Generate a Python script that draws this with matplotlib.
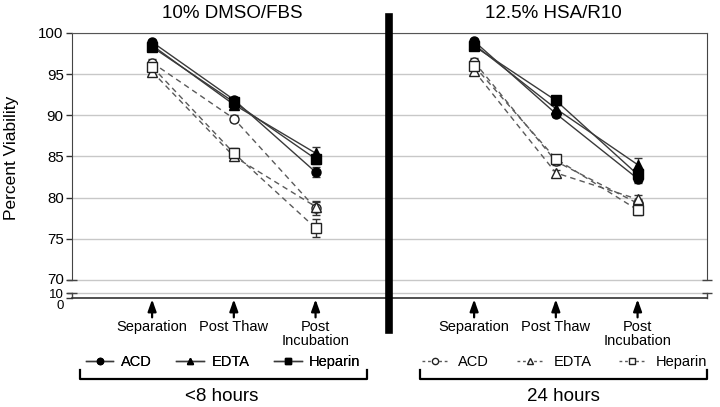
import numpy as np
import matplotlib.pyplot as plt
import matplotlib.transforms as mtransforms
from matplotlib.lines import Line2D

plt.rcParams['font.family'] = ['Liberation Sans', 'DejaVu Sans']

# 數據
stages = ["Separation", "Post Thaw", "Post\nIncubation"]
panel_titles = ["10% DMSO/FBS", "12.5% HSA/R10"]
group_names = ["<8 hours", "24 hours"]
anticoag = ["ACD", "EDTA", "Heparin"]
markers = ["o", "^", "s"]

# 10% DMSO/FBS, <8 hours (filled): ACD, EDTA, Heparin
dmso_8h = [[98.9, 91.9, 83.1],
           [98.5, 91.3, 85.4],
           [98.3, 91.6, 84.7]]
dmso_8h_err = [[0.3, 0.3, 0.6],
               [0.3, 0.3, 0.8],
               [0.3, 0.3, 0.6]]
# 10% DMSO/FBS, 24 hours (open)
dmso_24h = [[96.4, 89.6, 78.7],
            [95.3, 85.0, 78.9],
            [95.9, 85.4, 76.3]]
dmso_24h_err = [[0.4, 0.4, 0.8],
                [0.3, 0.3, 0.7],
                [0.5, 0.6, 1.1]]
# 12.5% HSA/R10, <8 hours (filled)
hsa_8h = [[99.0, 90.2, 82.3],
          [98.6, 90.8, 84.0],
          [98.4, 91.8, 82.8]]
hsa_8h_err = [[0.3, 0.4, 0.5],
              [0.3, 0.4, 0.8],
              [0.3, 0.5, 0.5]]
# 12.5% HSA/R10, 24 hours (open)
hsa_24h = [[96.5, 84.4, 79.3],
           [95.4, 83.0, 79.8],
           [96.0, 84.7, 78.5]]
hsa_24h_err = [[0.5, 0.4, 0.5],
               [0.4, 0.4, 0.5],
               [0.5, 0.5, 0.6]]

yticks = [0, 10, 70, 75, 80, 85, 90, 95, 100]

# 斷軸: 0-10 壓縮在 70 下方
brk_in = [0, 10, 70, 100]
brk_out = [67.8, 68.42, 70, 100]
def fwd(v):
    return np.interp(v, brk_in, brk_out)
def inv(v):
    return np.interp(v, brk_out, brk_in)

fig = plt.figure(figsize=(7.2, 4.07), dpi=100)
ax = fig.add_axes([0.1, 0.268, 0.882, 0.651])
ax.set_yscale('function', functions=(fwd, inv))
ax.set_ylim(0, 100)

x = np.arange(len(stages))
offsets = [0, 3.94]
ax.set_xlim(-0.98, 6.79)

line_col = '#3a3a3a'
dash_col = '#5a5a5a'

for off, fresh, fresh_e, old, old_e in [(offsets[0], dmso_8h, dmso_8h_err, dmso_24h, dmso_24h_err),
                                       (offsets[1], hsa_8h, hsa_8h_err, hsa_24h, hsa_24h_err)]:
    for i in range(3):
        ax.errorbar(x + off, old[i], yerr=old_e[i], color=dash_col, ls=(0, (4, 3)), lw=1.0,
                    marker=markers[i], ms=6.5, mfc='white', mec='#222222', mew=1.0,
                    ecolor='#333333', elinewidth=1.0, capsize=3, zorder=3)
    for i in range(3):
        ax.errorbar(x + off, fresh[i], yerr=fresh_e[i], color=line_col, ls='-', lw=1.0,
                    marker=markers[i], ms=6.5, mfc='black', mec='black',
                    ecolor='#333333', elinewidth=1.0, capsize=3, zorder=4)

# 網格與軸
ax.set_yticks(yticks)
ax.set_yticklabels([str(t) for t in yticks], fontsize=10.8)
ax.tick_params(axis='y', length=4, width=1, color='#333333', pad=2)
lbl0, lbl10, lbl70 = ax.get_yticklabels()[:3]
def nudge(lbl, dy):
    lbl.set_transform(lbl.get_transform() + mtransforms.ScaledTranslation(0, dy / 100, fig.dpi_scale_trans))
lbl0.set_fontsize(9.5)
lbl10.set_fontsize(9.5)
lbl0.set_va('top')
nudge(lbl0, -2)
nudge(lbl10, -1)
nudge(lbl70, 1.5)
ax.yaxis.grid(True, color='#c8c8c8', lw=1)
ax.set_axisbelow(True)

all_x = np.concatenate([x + offsets[0], x + offsets[1]])
ax.set_xticks(all_x)
ax.set_xticklabels(stages * 2, fontsize=10.5, linespacing=0.95)
ax.tick_params(axis='x', length=0, pad=16)

for s in ['left', 'right']:
    ax.spines[s].set_bounds(70, 100)
    ax.spines[s].set_color('#444444')
ax.spines['top'].set_color('#555555')
ax.spines['bottom'].set_color('#333333')
ax.spines['bottom'].set_linewidth(1.2)

tb = mtransforms.blended_transform_factory(ax.transAxes, ax.transData)
for xs in [0, 1]:
    ax.plot([xs, xs], [0, 10], color='#444444', lw=1, transform=tb, clip_on=False)
    ax.plot([xs, xs], [10, 70], color='none', marker='_', ms=7, mec='#444444', mew=1,
            transform=tb, clip_on=False)

# 向上箭頭
for xv in all_x:
    ax.annotate('', xy=(xv, 0), xytext=(0, -14), textcoords='offset points',
                xycoords=('data', 'data'),
                arrowprops=dict(arrowstyle='-|>,head_length=0.7,head_width=0.25',
                                color='black', lw=1.6, shrinkA=0, shrinkB=1))

ax.set_ylabel("Percent Viability", fontsize=12.5)
ax.yaxis.set_label_coords(-0.083, 0.53)

# 標題
fig.text(0.322, 0.968, panel_titles[0], ha='center', va='center', fontsize=13.5)
fig.text(0.769, 0.968, panel_titles[1], ha='center', va='center', fontsize=13.5)

# 中間粗線
fig.add_artist(Line2D([0.540, 0.540], [0.189, 0.958], color='black', lw=5.5))

# 圖例
h_fresh = [Line2D([], [], color=line_col, lw=1, marker=m, ms=4.5, mfc='black', mec='black')
           for m in markers]
h_old = [Line2D([], [], color=dash_col, lw=1, ls=(0, (2, 2)), marker=m, ms=4.5,
                mfc='white', mec='#222222') for m in markers]
leg1 = fig.legend(h_fresh, anticoag, loc='center', bbox_to_anchor=(0.31, 0.11), ncol=3,
                  frameon=False, fontsize=10.5, handlelength=1.9, handletextpad=0.5,
                  columnspacing=1.7)
fig.add_artist(leg1)
fig.legend(h_old, anticoag, loc='center', bbox_to_anchor=(0.784, 0.11), ncol=3,
           frameon=False, fontsize=10.5, handlelength=1.8, handletextpad=0.7,
           columnspacing=1.9)

# 括號
for x0, x1 in [(0.111, 0.510), (0.583, 0.982)]:
    fig.add_artist(Line2D([x0, x0, x1, x1], [0.091, 0.069, 0.069, 0.091], color='black', lw=1.6))

fig.text(0.308, 0.025, group_names[0], ha='center', va='center', fontsize=13.5)
fig.text(0.783, 0.027, group_names[1], ha='center', va='center', fontsize=13.5)

fig.savefig("out.png", dpi=100)
